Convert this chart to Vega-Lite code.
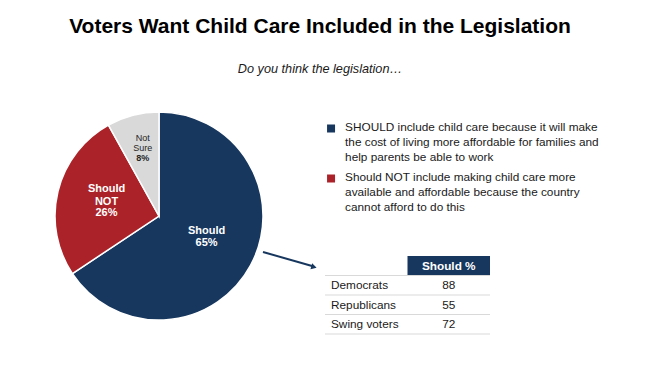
{
  "$schema": "https://vega.github.io/schema/vega-lite/v6.json",
  "padding": {"left": 52, "top": 16, "right": 50, "bottom": 20},
  "bounds": "flush",
  "title": {
    "text": "Voters Want Child Care Included in the Legislation",
    "subtitle": "Do you think the legislation…",
    "font": "Liberation Sans",
    "fontSize": 21,
    "fontWeight": "bold",
    "color": "#000000",
    "subtitleFont": "Liberation Sans",
    "subtitleFontSize": 12.7,
    "subtitleFontStyle": "italic",
    "subtitleColor": "#1a1a1a",
    "subtitlePadding": 26,
    "offset": 33.3,
    "anchor": "middle",
    "dx": -6
  },
  "config": {
    "font": "Liberation Sans",
    "view": {"stroke": null},
    "axis": {"disable": true},
    "legend": {"disable": true}
  },
  "spacing": 62,
  "hconcat": [
    {
      "width": 208,
      "height": 208,
      "data": {
        "values": [
          {"answer": "Should", "pct": 0.65},
          {"answer": "Should NOT", "pct": 0.26},
          {"answer": "Not Sure", "pct": 0.08}
        ]
      },
      "layer": [
        {
          "mark": {"type": "arc", "outerRadius": 104, "stroke": "white", "strokeWidth": 1.5},
          "encoding": {
            "theta": {"field": "pct", "type": "quantitative", "stack": true},
            "order": {"field": "pct", "sort": "descending"},
            "color": {
              "field": "answer",
              "type": "nominal",
              "scale": {"domain": ["Should", "Should NOT", "Not Sure"], "range": ["#17375e", "#ab2328", "#d9d9d9"]}
            }
          }
        },
        {
          "mark": {
            "type": "text",
            "radius": {"expr": "datum.answer === 'Not Sure' ? 65 : 54"},
            "baseline": "bottom",
            "lineBreak": " ",
            "dy": {"expr": "datum.answer === 'Should' ? -6 : datum.answer === 'Should NOT' ? -9 : -10.5"},
            "fontWeight": {"expr": "datum.answer === 'Not Sure' ? 'normal' : 'bold'"},
            "lineHeight": {"expr": "datum.answer === 'Not Sure' ? 10.5 : 13"}
          },
          "encoding": {
            "theta": {"field": "pct", "type": "quantitative", "stack": true},
            "order": {"field": "pct", "sort": "descending"},
            "text": {"field": "answer", "type": "nominal"},
            "size": {"condition": {"test": "datum.answer === 'Not Sure'", "value": 9}, "value": 11},
            "color": {"condition": {"test": "datum.answer === 'Not Sure'", "value": "#262626"}, "value": "#ffffff"}
          }
        },
        {
          "mark": {
            "type": "text",
            "radius": {"expr": "datum.answer === 'Not Sure' ? 65 : 54"},
            "baseline": "top",
            "dy": {"expr": "datum.answer === 'Should' ? -5 : datum.answer === 'Should NOT' ? 4 : 1"},
            "fontWeight": "bold"
          },
          "encoding": {
            "theta": {"field": "pct", "type": "quantitative", "stack": true},
            "order": {"field": "pct", "sort": "descending"},
            "text": {"field": "pct", "type": "quantitative", "format": ".0%"},
            "size": {"condition": {"test": "datum.answer === 'Not Sure'", "value": 9}, "value": 11},
            "color": {"condition": {"test": "datum.answer === 'Not Sure'", "value": "#262626"}, "value": "#ffffff"}
          }
        },
        {
          "data": {"values": [{}]},
          "mark": {"type": "rule", "color": "#17375e", "strokeWidth": 2},
          "encoding": {
            "x": {"datum": 1.0, "type": "quantitative", "scale": {"domain": [0, 1], "zero": false, "nice": false}},
            "y": {"datum": 0.327, "type": "quantitative", "scale": {"domain": [0, 1], "zero": false, "nice": false}},
            "x2": {"datum": 1.24},
            "y2": {"datum": 0.258}
          }
        },
        {
          "data": {"values": [{}]},
          "mark": {"type": "point", "shape": "triangle-right", "angle": 16, "filled": true, "size": 40, "color": "#17375e", "opacity": 1},
          "encoding": {
            "x": {"datum": 1.245, "type": "quantitative"},
            "y": {"datum": 0.255, "type": "quantitative"}
          }
        }
      ]
    },
    {
      "spacing": 28,
      "bounds": "flush",
      "vconcat": [
        {
          "width": 275,
          "height": 116,
          "data": {
            "values": [
              {"answer": "Should", "text": "SHOULD include child care because it will make\nthe cost of living more affordable for families and\nhelp parents be able to work"},
              {"answer": "Should NOT", "text": "Should NOT include making child care more\navailable and affordable because the country\ncannot afford to do this"}
            ]
          },
          "layer": [
            {
              "mark": {"type": "point", "shape": "square", "filled": true, "size": 64, "opacity": 1},
              "encoding": {
                "x": {"datum": 2.2, "type": "quantitative", "scale": {"domain": [0, 100], "zero": false, "nice": false}},
                "y": {
                  "field": "answer",
                  "type": "nominal",
                  "bandPosition": 0.17,
                  "scale": {"type": "band", "domain": ["Should", "Should NOT"], "paddingInner": 0, "paddingOuter": 0.16}
                },
                "color": {"field": "answer", "type": "nominal"}
              }
            },
            {
              "mark": {"type": "text", "align": "left", "baseline": "top", "lineBreak": "\n", "fontSize": 11.8, "lineHeight": 15, "color": "#1a1a1a", "dy": 1.5},
              "encoding": {
                "x": {"datum": 7.3, "type": "quantitative"},
                "y": {"field": "answer", "type": "nominal", "bandPosition": 0},
                "text": {"field": "text", "type": "nominal"}
              }
            }
          ]
        },
        {
          "width": 165,
          "height": 78,
          "data": {
            "values": [
              {"group": "Democrats", "should": 88},
              {"group": "Republicans", "should": 55},
              {"group": "Swing voters", "should": 72}
            ]
          },
          "layer": [
            {
              "data": {"values": [{}]},
              "mark": {"type": "rect", "color": "#17375e"},
              "encoding": {
                "x": {"datum": "Should %", "type": "nominal", "scale": {"type": "band", "domain": ["label", "Should %"], "padding": 0}},
                "y": {"datum": "header", "type": "nominal", "scale": {"type": "band", "domain": ["header", "Democrats", "Republicans", "Swing voters"], "padding": 0}}
              }
            },
            {
              "data": {"values": [{}]},
              "mark": {"type": "text", "color": "#ffffff", "fontWeight": "bold", "fontSize": 11.8, "text": "Should %"},
              "encoding": {
                "x": {"datum": "Should %", "type": "nominal"},
                "y": {"datum": "header", "type": "nominal"}
              }
            },
            {
              "data": {"values": [{}]},
              "mark": {"type": "rule", "color": "#d9d9d9", "strokeWidth": 1},
              "encoding": {"y": {"datum": "header", "type": "nominal", "bandPosition": 1}}
            },
            {
              "mark": {"type": "rule", "color": "#d9d9d9", "strokeWidth": 1},
              "encoding": {"y": {"field": "group", "type": "nominal", "bandPosition": 1}}
            },
            {
              "mark": {"type": "text", "align": "left", "dx": 6, "fontSize": 11.8, "color": "#1a1a1a"},
              "encoding": {
                "x": {"datum": "label", "type": "nominal", "bandPosition": 0},
                "y": {"field": "group", "type": "nominal"},
                "text": {"field": "group", "type": "nominal"}
              }
            },
            {
              "mark": {"type": "text", "fontSize": 11.8, "color": "#1a1a1a"},
              "encoding": {
                "x": {"datum": "Should %", "type": "nominal"},
                "y": {"field": "group", "type": "nominal"},
                "text": {"field": "should", "type": "quantitative"}
              }
            }
          ]
        }
      ]
    }
  ]
}
